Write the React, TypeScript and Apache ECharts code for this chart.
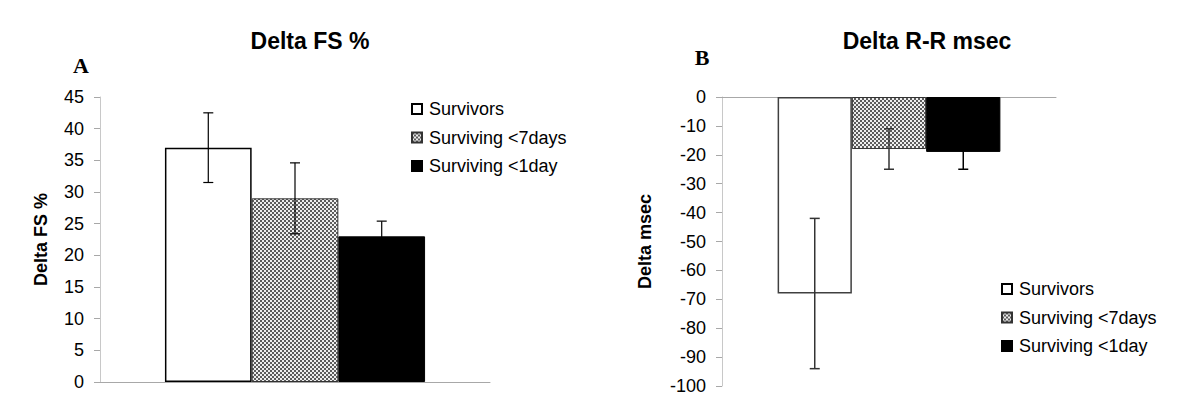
import React, { useEffect, useRef } from 'react';
import * as echarts from 'echarts';

// ---------- data ----------
const seriesNames = ['Survivors', 'Surviving <7days', 'Surviving <1day'];
const categoriesA = ['Delta FS %'];
const fsMeans = [37, 29, 23];
const fsErrors = [5.5, 5.6, 2.4];
const categoriesB = ['Delta R-R msec'];
const rrMeans = [-68, -18, -19];
const rrErrors = [26, 7, 6];
const fsAxis = { min: 0, max: 45, interval: 5 };
const rrAxis = { min: -100, max: 0, interval: 10 };

const SANS = '"Liberation Sans", Arial, sans-serif';
const SERIF = '"Liberation Serif", "Times New Roman", serif';
const GAP = 0.333;

function makePattern(): HTMLCanvasElement {
  const c = document.createElement('canvas');
  c.width = 4;
  c.height = 4;
  const ctx = c.getContext('2d')!;
  ctx.fillStyle = '#eeeeee';
  ctx.fillRect(0, 0, 4, 4);
  ctx.fillStyle = '#5c5c5c';
  ctx.fillRect(0, 0, 2, 2);
  ctx.fillRect(2, 2, 2, 2);
  return c;
}

function barSeries(axisIdx: number, means: number[], survivorsBorder: string, pattern: HTMLCanvasElement) {
  const styles = [
    { color: '#ffffff', borderColor: survivorsBorder, borderWidth: 1.5 },
    { color: { image: pattern, repeat: 'repeat' }, borderColor: '#333333', borderWidth: 1 },
    { color: '#000000', borderColor: '#000000', borderWidth: 1 },
  ];
  return seriesNames.map((name, i) => ({
    type: 'bar',
    name,
    xAxisIndex: axisIdx,
    yAxisIndex: axisIdx,
    data: [means[i]],
    barGap: '0%',
    barCategoryGap: '33.3%',
    itemStyle: styles[i],
    emphasis: { disabled: true },
  }));
}

function errorSeries(axisIdx: number, means: number[], errs: number[], color: string, width: number) {
  return {
    type: 'custom',
    xAxisIndex: axisIdx,
    yAxisIndex: axisIdx,
    silent: true,
    z: 10,
    data: means.map((m, i) => [0, m - errs[i], m + errs[i], i]),
    renderItem: (_params: any, api: any) => {
      const lo = api.coord([api.value(0), api.value(1)]);
      const hi = api.coord([api.value(0), api.value(2)]);
      const band = api.size([1, 0])[0];
      const bw = (band * (1 - GAP)) / 3;
      const idx = api.value(3);
      const x = lo[0] + (idx - 1) * bw;
      const cap = 5;
      // the third bar is solid black: the part of its whisker inside the bar is black
      const stroke = idx === 2 ? '#000000' : color;
      const style = { stroke, lineWidth: width };
      return {
        type: 'group',
        children: [
          { type: 'line', shape: { x1: x, y1: hi[1], x2: x, y2: lo[1] }, style },
          { type: 'line', shape: { x1: x - cap, y1: hi[1], x2: x + cap, y2: hi[1] }, style },
          { type: 'line', shape: { x1: x - cap, y1: lo[1], x2: x + cap, y2: lo[1] }, style },
        ],
      };
    },
  };
}

function yAxis(gridIndex: number, range: { min: number; max: number; interval: number }, name: string, nameGap: number) {
  return {
    type: 'value',
    gridIndex,
    min: range.min,
    max: range.max,
    interval: range.interval,
    name,
    nameLocation: 'middle',
    nameGap,
    nameTextStyle: { fontSize: 18, fontWeight: 'bold', color: '#000', fontFamily: SANS },
    axisLine: { show: true, lineStyle: { color: '#c8c8c8', width: 1 } },
    axisTick: { show: true, length: 6, lineStyle: { color: '#a8a8a8' } },
    splitLine: { show: false },
    axisLabel: { color: '#000', fontSize: 18, margin: 16, fontFamily: SANS },
  };
}

function xAxis(gridIndex: number, data: string[]) {
  return {
    type: 'category',
    gridIndex,
    data,
    axisLine: { show: true, lineStyle: { color: '#a8a8a8', width: 1 } },
    axisTick: { show: false },
    axisLabel: { show: false },
    splitLine: { show: false },
  };
}

function legend(left: number, top: number) {
  return {
    orient: 'vertical',
    left,
    top,
    padding: 0,
    itemWidth: 10,
    itemHeight: 10,
    itemGap: 10.5,
    icon: 'rect',
    selectedMode: false,
    data: seriesNames,
    textStyle: { fontSize: 18, color: '#000', fontFamily: SANS, padding: [0, 0, 0, 2] },
  };
}

export default function App() {
  const ref = useRef<HTMLDivElement>(null);
  useEffect(() => {
    if (!ref.current) return;
    const chart = echarts.init(ref.current, undefined, { renderer: 'svg' });
    const pattern = makePattern();
    const titleStyle = { fontSize: 23, fontWeight: 'bold', color: '#000', fontFamily: SANS };
    const letterStyle = { fontSize: 22, fontWeight: 'bold', color: '#000', fontFamily: SERIF };
    chart.setOption({
      animation: false,
      backgroundColor: '#ffffff',
      title: [
        { text: 'Delta FS %', left: 310, top: 29, textAlign: 'center', padding: 0, textStyle: titleStyle },
        { text: 'Delta R-R msec', left: 927, top: 29, textAlign: 'center', padding: 0, textStyle: titleStyle },
        { text: 'A', left: 81, top: 54, textAlign: 'center', padding: 0, textStyle: letterStyle },
        { text: 'B', left: 702, top: 46, textAlign: 'center', padding: 0, textStyle: letterStyle },
      ],
      legend: [legend(411, 100), legend(1001, 280)],
      grid: [
        { left: 100, top: 97, width: 390, height: 285 },
        { left: 722, top: 97, width: 334, height: 289 },
      ],
      xAxis: [xAxis(0, categoriesA), xAxis(1, categoriesB)],
      yAxis: [yAxis(0, fsAxis, 'Delta FS %', 50), yAxis(1, rrAxis, 'Delta msec', 68)],
      series: [
        ...barSeries(0, fsMeans, '#000000', pattern),
        errorSeries(0, fsMeans, fsErrors, '#000000', 1.2),
        ...barSeries(1, rrMeans, '#404040', pattern),
        errorSeries(1, rrMeans, rrErrors, '#333333', 1.5),
      ],
    });
    return () => chart.dispose();
  }, []);
  return (
    <div
      ref={ref}
      style={{ position: 'fixed', left: 0, top: 0, width: 1200, height: 415, background: '#fff' }}
    />
  );
}
